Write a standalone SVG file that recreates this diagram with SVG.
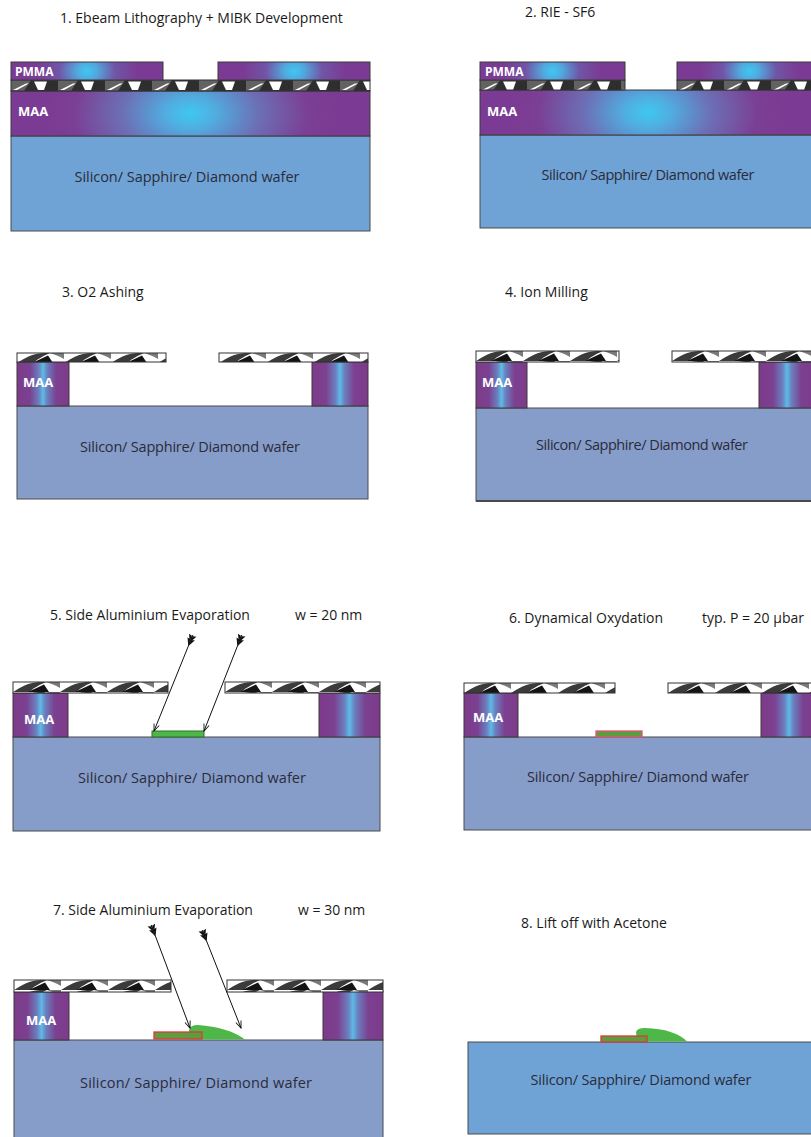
<svg xmlns="http://www.w3.org/2000/svg" width="811" height="1137" viewBox="0 0 811 1137">
<style>
text{font-family:"Open Sans","Liberation Sans",sans-serif}
.title{font-size:14px;fill:#1a1a1a}
.wtxt{font-size:14.5px;fill:#2b2b3a;text-anchor:middle}
.lbl{font-size:13px;font-weight:bold;fill:#fff}
.lblp{font-size:12px;font-weight:bold;fill:#fff}
.waferA{fill:#6fa3d6;stroke:#4a4a4a;stroke-width:1}
.waferB{fill:#869dca;stroke:#4a4a4a;stroke-width:1}
.maa{fill:url(#maaGlow);stroke:#3a3a3a;stroke-width:1}
.pmma{fill:url(#pmmaGlow);stroke:#3a3a3a;stroke-width:1}
.col{fill:url(#colGlow);stroke:#3a3a3a;stroke-width:1}
.hd{fill:url(#resistDark);stroke:#333;stroke-width:1}
.hl{fill:url(#resistLight);stroke:#333;stroke-width:1}
.al{fill:#4db848;stroke:#2f6e2b;stroke-width:1}
.ox{fill:#5c9e3e;stroke:#e2363a;stroke-width:1.3}
.oxp{fill:#5c9e3e;stroke:#ea4f7c;stroke-width:1.3}
.blob{fill:#4db848}
.beam{stroke:#111;stroke-width:1;fill:none;marker-start:url(#fletch);marker-end:url(#tip)}
</style>
<defs>
  <radialGradient id="maaGlow" cx="0.5" cy="0.5" r="0.42" gradientTransform="translate(0.5 0.5) scale(1 5) translate(-0.5 -0.5)">
    <stop offset="0" stop-color="#3ec8f1"/>
    <stop offset="0.15" stop-color="#4fb0e2"/>
    <stop offset="0.45" stop-color="#6c70b6"/>
    <stop offset="0.78" stop-color="#7b3f95"/>
    <stop offset="1" stop-color="#7b3a93"/>
  </radialGradient>
  <radialGradient id="pmmaGlow" cx="0.5" cy="0.5" r="0.34" gradientTransform="translate(0.5 0.5) scale(1 7) translate(-0.5 -0.5)">
    <stop offset="0" stop-color="#3ec8f1"/>
    <stop offset="0.2" stop-color="#52a8de"/>
    <stop offset="0.55" stop-color="#7055a6"/>
    <stop offset="1" stop-color="#7b3a93"/>
  </radialGradient>
  <linearGradient id="colGlow" x1="0" y1="0" x2="1" y2="0">
    <stop offset="0" stop-color="#7e3a8b"/>
    <stop offset="0.25" stop-color="#7b4190"/>
    <stop offset="0.42" stop-color="#6a80c0"/>
    <stop offset="0.5" stop-color="#5ebbe6"/>
    <stop offset="0.58" stop-color="#6a80c0"/>
    <stop offset="0.75" stop-color="#7b4190"/>
    <stop offset="1" stop-color="#7e3a8b"/>
  </linearGradient>
  <!-- dark resist layer texture (steps 1-2) -->
  <pattern id="resistDark" patternUnits="userSpaceOnUse" width="47" height="11">
    <rect width="47" height="11" fill="#2e2e2e"/>
    <polygon points="0,0 20,0 13,11 0,11" fill="#626262"/>
    <polygon points="2,10 15,3.5 18,3.5 6,10" fill="#fff"/>
    <polygon points="23,1.5 36,1.5 33,10 27,10" fill="#fff"/>
  </pattern>
  <!-- light resist layer texture (steps 3-7) -->
  <pattern id="resistLight" patternUnits="userSpaceOnUse" width="47" height="10">
    <rect width="47" height="10" fill="#fff"/>
    <path d="M0,10 C8,5 14,1 26,0 L33,0 C24,4 19,7 17,10 Z" fill="#3b3b3b"/>
    <path d="M15,10 L31,2.5 L36,10 Z" fill="#141414"/>
    <path d="M33,0 L47,0 L47,6 C42,3 38,1.5 33,0 Z" fill="#7a7a7a"/>
  </pattern>
  <marker id="tip" markerUnits="userSpaceOnUse" markerWidth="10" markerHeight="10" viewBox="-9 -5 10 10" refX="0" refY="0" orient="auto">
    <path d="M-7,-2.8 L0,0 L-7,2.8" fill="none" stroke="#111" stroke-width="0.9"/>
  </marker>
  <marker id="fletch" markerUnits="userSpaceOnUse" markerWidth="14" markerHeight="12" viewBox="-3 -6 14 12" refX="0" refY="0" orient="auto">
    <path d="M-1,-0.6 L-2,-4 L4,-1 L4,-0.4 Z M-1,0.6 L-2,4 L4,1 L4,0.4 Z M3,-0.6 L2,-4 L8,-1 L8,-0.4 Z M3,0.6 L2,4 L8,1 L8,0.4 Z" fill="#111"/>
    <path d="M-2,0 L9,0" stroke="#111" stroke-width="1.4"/>
  </marker>
</defs>

<rect width="811" height="1137" fill="#fff"/>

<!-- Step 1 -->
<g id="step1">
  <text class="title" x="60" y="23">1. Ebeam Lithography + MIBK Development</text>
  <g id="s1-wafer"><rect class="waferA" x="11" y="136" width="359" height="95"/>
    <text class="wtxt" x="187" y="182" textLength="225">Silicon/ Sapphire/ Diamond wafer</text></g>
  <g id="s1-maa"><rect class="maa" x="11" y="91" width="359" height="45"/>
    <text class="lbl" x="18" y="116">MAA</text></g>
  <g id="s1-resist"><g transform="translate(11 80)"><rect class="hd" width="359" height="11"/></g></g>
  <g id="s1-pmma">
    <rect class="pmma" x="11" y="62" width="152" height="18"/>
    <rect class="pmma" x="218" y="62" width="152" height="18"/>
    <text class="lblp" x="15" y="76">PMMA</text>
  </g>
</g>

<!-- Step 2 -->
<g id="step2">
  <text class="title" x="525" y="17">2. RIE - SF6</text>
  <g id="s2-wafer"><rect class="waferA" x="480" y="135" width="335" height="93"/>
    <text class="wtxt" x="648" y="180" textLength="213">Silicon/ Sapphire/ Diamond wafer</text></g>
  <g id="s2-maa"><rect class="maa" x="480" y="90" width="335" height="45"/>
    <text class="lbl" x="487" y="116">MAA</text></g>
  <g id="s2-resist">
    <g transform="translate(480 80)"><rect class="hd" width="145" height="10"/></g>
    <g transform="translate(677 80)"><rect class="hd" width="138" height="10"/></g>
  </g>
  <g id="s2-pmma">
    <rect class="pmma" x="480" y="62" width="145" height="18"/>
    <rect class="pmma" x="677" y="62" width="145" height="18"/>
    <text class="lblp" x="485" y="76">PMMA</text>
  </g>
</g>

<!-- Step 3 -->
<g id="step3">
  <text class="title" x="62" y="297">3. O2 Ashing</text>
  <g id="s3-wafer"><rect class="waferB" x="17" y="406" width="351" height="93"/>
    <text class="wtxt" x="190" y="452" textLength="220">Silicon/ Sapphire/ Diamond wafer</text></g>
  <g id="s3-maa">
    <rect class="col" x="17" y="362" width="52" height="44"/>
    <rect class="col" x="312" y="362" width="56" height="44"/>
    <text class="lbl" x="23" y="387">MAA</text>
  </g>
  <g id="s3-resist">
    <g transform="translate(17 353)"><rect class="hl" width="149" height="9"/></g>
    <g transform="translate(219 353)"><rect class="hl" width="149" height="9"/></g>
  </g>
</g>

<!-- Step 4 -->
<g id="step4">
  <text class="title" x="505" y="297">4. Ion Milling</text>
  <g id="s4-wafer"><rect class="waferB" x="476" y="408" width="339" height="93"/>
    <line x1="476" y1="501" x2="811" y2="501" stroke="#4a4a4a" stroke-width="2"/>
    <text class="wtxt" x="642" y="450" textLength="212">Silicon/ Sapphire/ Diamond wafer</text></g>
  <g id="s4-maa">
    <rect class="col" x="476" y="362" width="51" height="46"/>
    <rect class="col" x="759" y="362" width="56" height="46"/>
    <text class="lbl" x="482" y="387">MAA</text>
  </g>
  <g id="s4-resist">
    <g transform="translate(476 351)"><rect class="hl" width="143" height="11"/></g>
    <g transform="translate(672 351)"><rect class="hl" width="143" height="11"/></g>
  </g>
</g>

<!-- Step 5 -->
<g id="step5">
  <text class="title" x="50" y="620">5. Side Aluminium Evaporation</text>
  <text class="title" x="295" y="620">w = 20 nm</text>
  <g id="s5-wafer"><rect class="waferB" x="13" y="737" width="367" height="94"/>
    <text class="wtxt" x="192" y="783" textLength="228">Silicon/ Sapphire/ Diamond wafer</text></g>
  <g id="s5-maa">
    <rect class="col" x="13" y="693" width="55" height="44"/>
    <rect class="col" x="319" y="693" width="61" height="44"/>
    <text class="lbl" x="24" y="724">MAA</text>
  </g>
  <g id="s5-resist">
    <g transform="translate(13 682)"><rect class="hl" width="155" height="11"/></g>
    <g transform="translate(225 682)"><rect class="hl" width="155" height="11"/></g>
  </g>
  <g id="s5-al"><rect class="al" x="152" y="731" width="52" height="6"/></g>
</g>

<!-- Step 6 -->
<g id="step6">
  <text class="title" x="509" y="623">6. Dynamical Oxydation</text>
  <text class="title" x="702" y="623">typ.  P = 20 µbar</text>
  <g id="s6-wafer"><rect class="waferB" x="464" y="737" width="351" height="93"/>
    <text class="wtxt" x="638" y="782" textLength="222">Silicon/ Sapphire/ Diamond wafer</text></g>
  <g id="s6-maa">
    <rect class="col" x="464" y="693" width="54" height="44"/>
    <rect class="col" x="761" y="693" width="56" height="44"/>
    <text class="lbl" x="473" y="722">MAA</text>
  </g>
  <g id="s6-resist">
    <g transform="translate(464 683)"><rect class="hl" width="151" height="10"/></g>
    <g transform="translate(668 683)"><rect class="hl" width="151" height="10"/></g>
  </g>
  <g id="s6-oxide"><rect class="oxp" x="596" y="731" width="46" height="6"/></g>
</g>

<!-- Step 7 -->
<g id="step7">
  <text class="title" x="53" y="915">7. Side Aluminium Evaporation</text>
  <text class="title" x="298" y="915">w = 30 nm</text>
  <g id="s7-wafer"><rect class="waferB" x="14" y="1040" width="369" height="100"/>
    <text class="wtxt" x="196" y="1088" textLength="232">Silicon/ Sapphire/ Diamond wafer</text></g>
  <g id="s7-maa">
    <rect class="col" x="14" y="992" width="55" height="48"/>
    <rect class="col" x="323" y="991" width="60" height="49"/>
    <text class="lbl" x="26" y="1025">MAA</text>
  </g>
  <g id="s7-resist">
    <g transform="translate(14 980)"><rect class="hl" width="157" height="12"/></g>
    <g transform="translate(227 980)"><rect class="hl" width="156" height="12"/></g>
  </g>
  <g id="s7-al">
    <path class="blob" d="M189,1039.5 L189,1030 Q190,1025 198,1025 Q228,1027 245,1039.5 Z"/>
    <rect class="ox" x="154" y="1032" width="48" height="7"/>
  </g>
</g>

<!-- Step 8 -->
<g id="step8">
  <text class="title" x="521" y="928">8.  Lift off with Acetone</text>
  <g id="s8-wafer"><rect class="waferA" x="468" y="1042" width="347" height="92"/>
    <text class="wtxt" x="641" y="1085" textLength="221">Silicon/ Sapphire/ Diamond wafer</text></g>
  <g id="s8-al">
    <path class="blob" d="M637,1041.5 L636,1032 Q637,1028 645,1028 Q675,1029 687,1041.5 Z"/>
    <rect class="ox" x="601" y="1036" width="46" height="6"/>
  </g>
</g>

<!-- evaporation beams -->
<g id="connectors">
  <path class="beam" d="M192,637 L154,731"/>
  <path class="beam" d="M241,637 L204,731"/>
  <path class="beam" d="M152,927 L190,1028"/>
  <path class="beam" d="M203,932 L241,1028"/>
</g>
</svg>
